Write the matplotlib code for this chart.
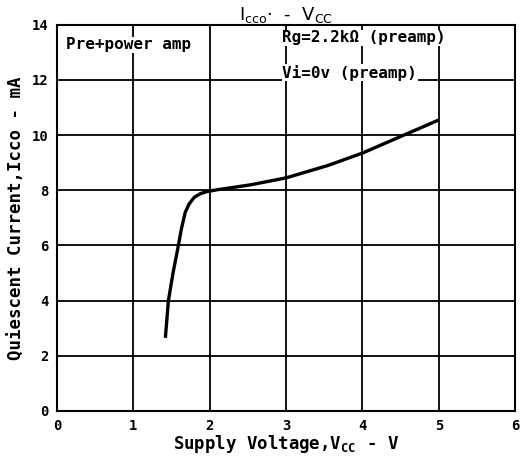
import matplotlib.pyplot as plt

# curve
vcc = [1.42, 1.46, 1.52, 1.58, 1.63, 1.68, 1.73, 1.80, 1.88, 1.96, 2.1, 2.3, 2.54,
       3.0, 3.55, 4.0, 4.5, 5.0]
icco = [2.65, 4.0, 5.0, 5.85, 6.6, 7.2, 7.5, 7.75, 7.88, 7.95, 8.02, 8.1, 8.2,
        8.45, 8.9, 9.35, 9.95, 10.55]

x_ticks = [0, 1, 2, 3, 4, 5, 6]
y_ticks = [0, 2, 4, 6, 8, 10, 12, 14]

mono = "DejaVu Sans Mono"

fig = plt.figure(figsize=(5.22, 4.68), dpi=100)
ax = fig.add_axes([0.109, 0.122, 0.878, 0.825])
ax.set_xlim(0, 6)
ax.set_ylim(0, 14)
ax.set_xticks(x_ticks)
ax.set_yticks(y_ticks)
ax.tick_params(length=0, labelsize=10, pad=6)
for lbl in ax.get_xticklabels() + ax.get_yticklabels():
    lbl.set_fontweight("bold")
    lbl.set_family(mono)
ax.grid(True, color="black", linewidth=1.3)
for sp in ax.spines.values():
    sp.set_linewidth(1.5)

ax.plot(vcc, icco, color="black", linewidth=2.4, solid_capstyle="butt")

ax.set_xlabel("Supply Voltage,V$_{\\mathregular{CC}}$ - V", family=mono,
              fontweight="bold", fontsize=12.5, labelpad=0)
ax.set_ylabel("Quiescent Current,Icco - mA", family=mono,
              fontweight="bold", fontsize=12.5, labelpad=4)
ax.set_title("I$_{\\mathregular{cco}}$$\\cdot$  -  V$_{\\mathregular{CC}}$", fontsize=13, pad=2)

box = dict(facecolor="white", edgecolor="none", pad=0.5)
ax.text(0.12, 13.55, "Pre+power amp", family=mono, fontweight="bold",
        fontsize=11.5, va="top", ha="left", bbox=box)
ax.text(2.95, 13.8, "Rg=2.2k\u03a9 (preamp)", family=mono, fontweight="bold",
        fontsize=11.5, va="top", ha="left", bbox=box)
ax.text(2.95, 12.55, "Vi=0v (preamp)", family=mono, fontweight="bold",
        fontsize=11.5, va="top", ha="left", bbox=box)

fig.savefig("out.png", dpi=100)
